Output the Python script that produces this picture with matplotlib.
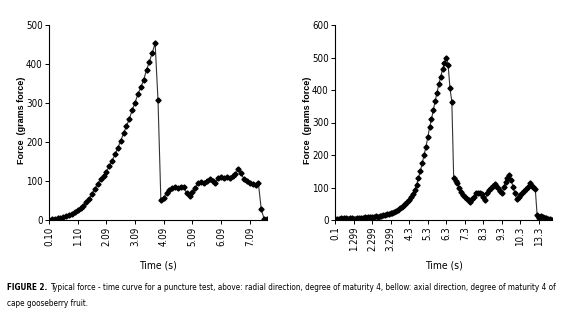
import matplotlib
matplotlib.use("Agg")
import matplotlib.pyplot as plt
from matplotlib import font_manager
import numpy as np

# radial direction (left panel), grams force per sample
left_force = [0, 2, 3, 4, 5, 7, 9, 12, 16, 20,
              25, 30, 37, 45, 55, 67, 80, 93, 104, 114,
              124, 138, 152, 168, 185, 203, 222, 241, 259, 282,
              301, 323, 340, 359, 385, 406, 429, 453, 307,
              51, 57, 70, 76, 81, 84, 81, 85, 84, 68,
              62, 73, 82, 95, 98, 96, 100, 104, 100, 96,
              107, 109, 107, 109, 108, 113, 118, 130, 120, 104,
              101, 96, 93, 90, 94, 27, 3, 2]
left_labels = ["0.10", "1.10", "2.09", "3.09", "4.09", "5.09", "6.09", "7.09"]

# axial direction (right panel)
right_force = [3, 4, 3, 5, 4, 6, 5, 4, 6, 5,
               4, 3, 5, 6, 7, 6, 8, 7, 9, 8,
               10, 9, 11, 10, 12, 13, 14, 15, 17, 19,
               21, 23, 26, 29, 32, 36, 40, 45, 50, 56,
               62, 70, 80, 92, 108, 130, 150, 174, 200, 224,
               254, 285, 310, 338, 366, 392, 418, 441, 464, 482,
               500, 477, 405, 364, 128, 121, 113, 100, 85, 77,
               72, 66, 62, 56, 65, 72, 84, 82, 82, 80,
               70, 62, 82, 92, 100, 105, 111, 106, 97, 90,
               82, 102, 118, 128, 138, 123, 101, 82, 64, 72,
               78, 82, 88, 95, 102, 113, 105, 101, 94, 14,
               7, 12, 9, 7, 6, 4, 2, 0]
right_labels = ["0.1", "1.299", "2.299", "3.299", "4.3", "5.3", "6.3",
                "7.3", "8.3", "9.3", "10.3", "13.3"]

# pick a condensed face if one is installed
fonts = font_manager.fontManager.ttflist
names = {f.name for f in fonts}
stretch = "normal"
if "Liberation Sans Narrow" in names:
    family = "Liberation Sans Narrow"
elif any(f.name == "DejaVu Sans" and f.stretch == "condensed" for f in fonts):
    family, stretch = "DejaVu Sans", "condensed"
else:
    family = "Liberation Sans"
small = family == "Liberation Sans"
plt.rcParams["font.family"] = [family, "DejaVu Sans"]
plt.rcParams["font.stretch"] = stretch
tick_fs = 6 if small else 7

fig = plt.figure(figsize=(5.74, 3.28), dpi=100)
W, H = 574, 328


def panel(x0, x1, values, labels, ymax, ylab_x):
    ax = fig.add_axes([x0 / W, 1 - 220 / H, (x1 - x0) / W, 195 / H])
    idx = np.arange(len(values))
    ax.plot(idx, values, color="#333333", lw=0.8, marker="D", ms=2.6,
            mfc="black", mec="black")
    ax.set_xlim(0, len(values) - 1)
    ax.set_ylim(0, ymax)
    ax.set_yticks(np.arange(0, ymax + 1, 100))
    ax.set_xticks(np.arange(len(labels)) * 10)
    ax.set_xticklabels(labels, rotation=90)
    for s in ("top", "right"):
        ax.spines[s].set_visible(False)
    for s in ("left", "bottom"):
        ax.spines[s].set_linewidth(0.8)
    ax.tick_params(labelsize=tick_fs, length=3, width=0.7, pad=1.5,
                   colors="black")
    fig.text((x0 + x1) / 2 / W, 1 - 266 / H, "Time (s)", ha="center",
             va="center", fontsize=7.5)
    fig.text(ylab_x / W, 1 - 120 / H, "Force  (grams force)", rotation=90,
             ha="center", va="center", fontsize=6.5, fontweight="bold",
             family=["Liberation Sans", "DejaVu Sans"], stretch="normal")
    return ax


panel(49, 267, left_force, left_labels, 500, 22)
panel(335, 552, right_force, right_labels, 600, 308)

# caption: bold lead-in followed by regular text, shrunk to fit the width
r = fig.canvas.get_renderer()
cap_rest = ("Typical force - time curve for a puncture test, above: radial direction, "
            "degree of maturity 4, bellow: axial direction, degree of maturity 4 of")
fs = 7.0
while True:
    t1 = fig.text(7 / W, 1 - 287 / H, "FIGURE 2.", fontsize=fs,
                  fontweight="bold", va="center")
    bb = t1.get_window_extent(renderer=r)
    t2 = fig.text((bb.x1 + 3) / W, 1 - 287 / H, cap_rest, fontsize=fs,
                  va="center")
    if t2.get_window_extent(renderer=r).x1 <= 566 or fs < 4:
        break
    t1.remove()
    t2.remove()
    fs -= 0.1
fig.text(7 / W, 1 - 303 / H, "cape gooseberry fruit.", fontsize=fs,
         va="center")

fig.savefig("out.png", dpi=100)
